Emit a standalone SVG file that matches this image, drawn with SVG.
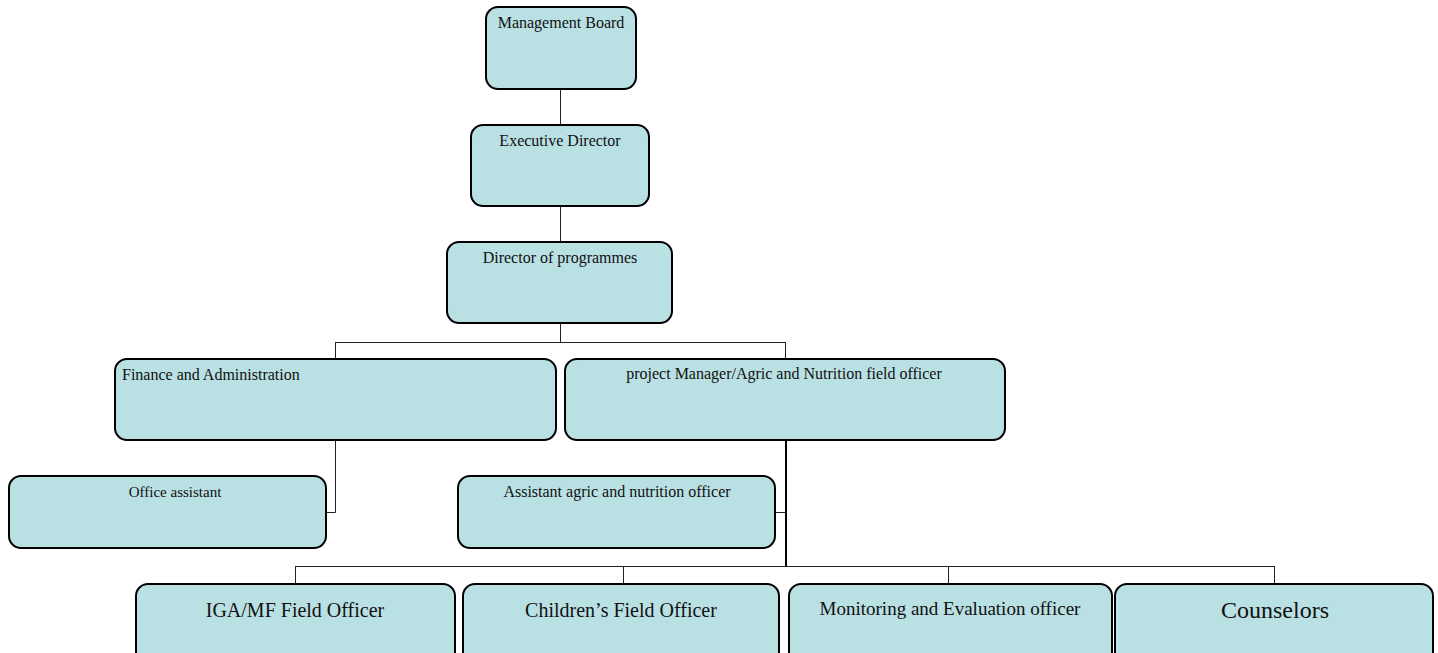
<svg xmlns="http://www.w3.org/2000/svg" width="1438" height="653" viewBox="0 0 1438 653">
<style>
.box{fill:#b9e0e3;stroke:#000;stroke-width:2}
.t{font-family:"Liberation Serif","Times New Roman",serif;fill:#111;text-anchor:middle}
.c{fill:none;stroke:#222;stroke-width:1}
</style>
<rect width="1438" height="653" fill="#fff"/>
<g id="connectors">
<path class="c" d="M560.5 89V125M560.5 206V242M560.5 323V342.5M335.5 342.5H785.5M335.5 342V359M785.5 342V359"/>
<path class="c" d="M335.5 440V512.5H326"/>
<path class="c" d="M785 512.5H775"/>
<path d="M786 440V567" stroke="#000" stroke-width="2" fill="none"/>
<path class="c" d="M295.5 566.5H1274.5M295.5 566V584M623.5 566V584M948.5 566V584M1274.5 566V584"/>
</g>
<g id="n-board"><rect class="box" x="486" y="7" width="150" height="82" rx="12"/><text class="t" x="561" y="28" font-size="16">Management Board</text></g>
<g id="n-exec"><rect class="box" x="471" y="125" width="178" height="81" rx="12"/><text class="t" x="560" y="146" font-size="16">Executive Director</text></g>
<g id="n-dop"><rect class="box" x="447" y="242" width="225" height="81" rx="12"/><text class="t" x="560" y="263" font-size="16">Director of programmes</text></g>
<g id="n-fin"><rect class="box" x="115" y="359" width="441" height="81" rx="12"/><text class="t" x="122" y="380" font-size="16" text-anchor="start" style="text-anchor:start">Finance and Administration</text></g>
<g id="n-pm"><rect class="box" x="565" y="359" width="440" height="81" rx="12"/><text class="t" x="784" y="379" font-size="16">project Manager/Agric and Nutrition field officer</text></g>
<g id="n-office"><rect class="box" x="9" y="476" width="317" height="72" rx="12"/><text class="t" x="175" y="497" font-size="15">Office assistant</text></g>
<g id="n-asst"><rect class="box" x="458" y="476" width="317" height="72" rx="12"/><text class="t" x="617" y="497" font-size="16">Assistant agric and nutrition officer</text></g>
<g id="n-iga"><rect class="box" x="136" y="584" width="319" height="80" rx="12"/><text class="t" x="295" y="617" font-size="20">IGA/MF Field Officer</text></g>
<g id="n-child"><rect class="box" x="463" y="584" width="316" height="80" rx="12"/><text class="t" x="621" y="617" font-size="20">Children’s Field Officer</text></g>
<g id="n-me"><rect class="box" x="789" y="584" width="323" height="80" rx="12"/><text class="t" x="950" y="615" font-size="19">Monitoring and Evaluation officer</text></g>
<g id="n-couns"><rect class="box" x="1115" y="584" width="318" height="80" rx="12"/><text class="t" x="1275" y="618" font-size="24">Counselors</text></g>
</svg>
